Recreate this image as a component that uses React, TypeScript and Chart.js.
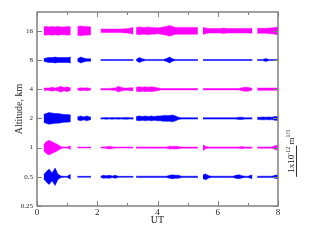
import React, { useEffect, useRef } from "react";
import { Chart, registerables } from "chart.js";

Chart.register(...registerables);

// Altitude levels (km) of the six traces
const levels = [16, 8, 4, 2, 1, 0.5];
const yTickValues = [0.25, 0.5, 1, 2, 4, 8, 16];
const xTickValues = [0, 2, 4, 6, 8];

// Time samples (UT hours) for each recording segment
const seg1T = [0.22, 0.3, 0.4, 0.5, 0.6, 0.7, 0.8, 0.9, 1.0, 1.12];
const seg2T = [1.34, 1.45, 1.55, 1.65, 1.79];
const seg3T = [2.11, 2.2, 2.3, 2.4, 2.5, 2.6, 2.7, 2.8, 2.9, 3.0, 3.1, 3.2];
const seg4T = [3.29, 3.4, 3.5, 3.6, 3.7, 3.8, 3.9, 4.0, 4.1, 4.2, 4.3, 4.4, 4.5, 4.6, 4.7, 4.8, 4.9, 5.0, 5.1, 5.2, 5.34];
const seg5T = [5.51, 5.6, 5.7, 5.8, 5.9, 6.0, 6.1, 6.2, 6.3, 6.4, 6.5, 6.6, 6.7, 6.8, 6.9, 7.0, 7.15];
const seg6T = [7.31, 7.4, 7.5, 7.6, 7.7, 7.8, 7.9, 8.0];

// Fluctuation amplitude (in 1/30 of the 1x10^-12 m^-2/3 scale bar)
const amp16 = [
  4, 4.5, 4, 4.5, 4, 4.5, 4, 4, 4.5, 4,
  4.5, 5, 4.5, 4.5, 4,
  1.8, 1.8, 1.8, 1.8, 1.8, 1.8, 1.8, 1.8, 2.2, 2.2, 2.8, 3.5,
  3.5, 4, 3.5, 3.5, 4, 3.5, 3.5, 3, 3.5, 4, 4.5, 5.5, 4.5, 3.5, 3.5, 3.5, 3.5, 3.5, 3.5, 3.5, 3.5,
  3.5, 3, 2.3, 2.3, 2.3, 2.3, 2.3, 2.8, 2.3, 2.3, 2.3, 2.3, 2.3, 2.3, 2.3, 2.3, 2.5,
  2.5, 2.5, 2.5, 2.5, 3, 3, 3.5, 4,
];
const amp8 = [
  1.2, 2, 2.5, 2.5, 3, 2.5, 2.5, 2.5, 2.5, 3,
  1.2, 3, 2, 1.2, 1.2,
  0.5, 0.5, 0.5, 0.5, 0.5, 0.5, 0.5, 0.5, 0.5, 0.5, 0.5, 0.5,
  0.6, 2.5, 1.2, 0.6, 0.6, 0.6, 0.6, 0.6, 0.6, 0.6, 1.5, 3, 1.2, 0.5, 0.5, 0.5, 0.5, 0.5, 0.5, 0.5, 0.5,
  0.5, 0.5, 0.5, 0.5, 0.5, 0.5, 0.5, 0.5, 0.5, 0.5, 0.5, 0.5, 0.5, 0.5, 0.5, 0.5, 0.5,
  0.5, 0.5, 0.6, 1.5, 0.6, 0.5, 0.5, 0.5,
];
const amp4 = [
  1.2, 1.2, 1.2, 2, 1.2, 2, 3, 1.5, 2.5, 1.2,
  0.7, 1.5, 1.2, 1.5, 0.7,
  0.8, 0.8, 0.8, 0.8, 1.2, 1.2, 3, 1.8, 1.2, 1.2, 1.5, 1.5,
  2, 2.5, 2, 2.5, 2, 2.5, 2, 1.5, 0.8, 0.7, 0.7, 0.7, 0.7, 0.7, 0.7, 0.7, 0.7, 0.7, 0.7, 0.7, 0.7,
  0.7, 0.7, 0.7, 0.7, 0.7, 0.7, 0.7, 0.7, 0.7, 0.7, 0.7, 0.7, 0.8, 1.5, 2, 2, 0.8,
  1.2, 1.2, 1.2, 1.2, 1.2, 1.2, 1.2, 1.2,
];
const amp2 = [
  4, 5, 6, 5.5, 5, 5, 4.5, 4, 4, 3.5,
  1.5, 2.5, 1.5, 2.5, 1.2,
  0.6, 0.6, 0.8, 0.6, 0.8, 0.6, 0.8, 0.6, 0.8, 0.8, 0.6, 0.8,
  2, 2.5, 2, 2.5, 2, 2.5, 2, 2.5, 2.5, 3, 3, 3, 3.5, 2.5, 1.2, 0.7, 0.7, 0.7, 0.7, 0.7, 0.7,
  0.7, 0.7, 0.7, 0.7, 0.7, 0.7, 0.7, 0.7, 0.7, 0.7, 0.7, 0.7, 1.2, 1.2, 0.7, 0.7, 0.7,
  1.2, 1.2, 1.5, 1.2, 1.5, 1.2, 2, 2,
];
const amp1 = [
  3, 6, 7.5, 6, 4.5, 3, 0.8, 0.5, 0.5, 2,
  0.5, 0.5, 0.5, 0.5, 0.5,
  0.5, 0.5, 0.8, 1.5, 0.8, 0.5, 0.5, 0.5, 0.5, 0.5, 0.5, 0.5,
  0.6, 0.6, 0.6, 0.6, 0.6, 0.6, 0.6, 0.6, 0.6, 0.6, 0.6, 1.5, 1.2, 1.5, 1.2, 0.6, 0.6, 0.6, 0.6, 0.6, 0.6,
  3, 1.2, 0.6, 0.6, 0.6, 0.6, 0.6, 0.6, 0.6, 0.6, 0.6, 0.6, 0.6, 1.2, 0.6, 0.6, 0.6,
  0.6, 0.6, 0.6, 0.6, 0.6, 0.6, 2, 2.5,
];
const amp05 = [
  2, 5, 8, 4, 9, 2.5, 0.8, 0.5, 0.5, 2.5,
  0.5, 0.5, 0.5, 0.5, 0.5,
  0.5, 1.5, 1.2, 1.5, 0.8, 1.5, 0.5, 0.5, 0.5, 0.5, 0.5, 0.5,
  0.6, 0.6, 0.6, 0.6, 0.6, 0.6, 0.6, 0.6, 0.6, 0.6, 0.6, 1.5, 2, 1.5, 1.5, 0.6, 0.6, 0.6, 0.6, 0.6, 0.6,
  2, 3, 1.2, 0.6, 0.6, 0.6, 0.6, 0.6, 0.6, 0.6, 0.6, 1.5, 2, 1.2, 0.6, 0.6, 2,
  0.6, 0.6, 0.6, 0.6, 0.6, 0.6, 1.5, 2,
];

const segments = [seg1T, seg2T, seg3T, seg4T, seg5T, seg6T];
const amplitudes = [amp16, amp8, amp4, amp2, amp1, amp05];
const traceColors = ["#ff00ff", "#0000ff", "#ff00ff", "#0000ff", "#ff00ff", "#0000ff"];
const AMP_UNIT = 1 / 30; // one scale bar = one octave on the log axis

function buildBand(level: number, amp: number[], sign: number) {
  const pts: { x: number; y: number | null }[] = [];
  let k = 0;
  segments.forEach((seg, si) => {
    if (si > 0) {
      const prev = segments[si - 1];
      pts.push({ x: (prev[prev.length - 1] + seg[0]) / 2, y: null });
    }
    seg.forEach((t) => {
      pts.push({ x: t, y: level * Math.pow(2, sign * amp[k] * AMP_UNIT) });
      k++;
    });
  });
  return pts;
}

const SERIF = "'Liberation Serif', 'DejaVu Serif', serif";

const decorPlugin = {
  id: "decor",
  afterDraw(chart: any) {
    const ctx = chart.ctx as CanvasRenderingContext2D;
    const { left, right, top, bottom } = chart.chartArea;
    const xs = chart.scales.x;
    const ys = chart.scales.y;
    ctx.save();
    ctx.strokeStyle = "#808080";
    ctx.lineWidth = 1.5;
    ctx.strokeRect(left, top, right - left, bottom - top);
    ctx.lineWidth = 1;
    ctx.beginPath();
    for (let t = 0; t <= 8; t++) {
      const len = t % 2 === 0 ? 5 : 3;
      const px = Math.round(xs.getPixelForValue(t)) + 0.5;
      ctx.moveTo(px, bottom);
      ctx.lineTo(px, bottom - len);
      ctx.moveTo(px, top);
      ctx.lineTo(px, top + len);
    }
    yTickValues.forEach((v) => {
      const py = Math.round(ys.getPixelForValue(v)) + 0.5;
      ctx.moveTo(left, py);
      ctx.lineTo(left + 5, py);
      ctx.moveTo(right, py);
      ctx.lineTo(right - 5, py);
    });
    ctx.stroke();

    // axis titles
    ctx.fillStyle = "#222";
    ctx.font = `10px ${SERIF}`;
    ctx.textAlign = "center";
    ctx.textBaseline = "middle";
    ctx.fillText("UT", (left + right) / 2, 220);
    ctx.save();
    ctx.translate(19, (top + bottom) / 2);
    ctx.rotate(-Math.PI / 2);
    ctx.fillText("Altitude, km", 0, 0);
    ctx.restore();

    // scale bar + its label
    const y1 = ys.getPixelForValue(1);
    const y05 = ys.getPixelForValue(0.5);
    ctx.strokeStyle = "#333";
    ctx.lineWidth = 1;
    ctx.beginPath();
    ctx.moveTo(right + 18.5, y1 - 2);
    ctx.lineTo(right + 18.5, y05);
    ctx.stroke();

    ctx.save();
    ctx.translate(right + 16, y05 - 4);
    ctx.rotate(-Math.PI / 2);
    ctx.textAlign = "left";
    ctx.textBaseline = "alphabetic";
    let x = 0;
    const part = (s: string, size: number, dy: number) => {
      ctx.font = `${size}px ${SERIF}`;
      ctx.fillText(s, x, dy);
      x += ctx.measureText(s).width;
    };
    part("1x10", 9, 0);
    part("-12", 6, -4);
    part(" m", 9, 0);
    part("1/3", 6, -4);
    ctx.restore();
    ctx.restore();
  },
};

export default function App() {
  const ref = useRef<HTMLCanvasElement>(null);
  useEffect(() => {
    if (!ref.current) return;
    const datasets: any[] = [];
    levels.forEach((lv, i) => {
      const c = traceColors[i];
      datasets.push({
        data: buildBand(lv, amplitudes[i], 1),
        borderColor: c,
        backgroundColor: c,
        borderWidth: 0.5,
        pointRadius: 0,
        tension: 0,
        spanGaps: false,
        fill: "+1",
      });
      datasets.push({
        data: buildBand(lv, amplitudes[i], -1),
        borderColor: c,
        backgroundColor: c,
        borderWidth: 0.5,
        pointRadius: 0,
        tension: 0,
        spanGaps: false,
        fill: false,
      });
    });
    const chart = new Chart(ref.current, {
      type: "line",
      data: { datasets },
      options: {
        animation: false,
        responsive: false,
        devicePixelRatio: 1,
        layout: { padding: { top: 12, right: 36, left: 0, bottom: 0 } },
        plugins: { legend: { display: false }, tooltip: { enabled: false } },
        scales: {
          x: {
            type: "linear",
            min: 0,
            max: 8,
            grid: { display: false, drawTicks: false },
            border: { display: false },
            afterBuildTicks: (s: any) => {
              s.ticks = xTickValues.map((v) => ({ value: v }));
            },
            afterFit: (s: any) => {
              s.height = 37;
            },
            ticks: {
              padding: 1,
              color: "#222",
              maxRotation: 0,
              font: { family: SERIF, size: 9 },
            },
          },
          y: {
            type: "logarithmic",
            min: 0.25,
            max: 25,
            grid: { display: false, drawTicks: false },
            border: { display: false },
            afterBuildTicks: (s: any) => {
              s.ticks = yTickValues.map((v) => ({ value: v }));
            },
            afterFit: (s: any) => {
              s.width = 37;
            },
            ticks: {
              padding: 4,
              color: "#222",
              font: { family: SERIF, size: 7 },
              callback: (v: any) => String(v),
            },
          },
        },
      },
      plugins: [decorPlugin],
    });
    return () => chart.destroy();
  }, []);
  return (
    <div style={{ position: "absolute", left: 0, top: 0, width: 314, height: 243, background: "#fff" }}>
      <canvas ref={ref} width={314} height={243} style={{ display: "block", width: 314, height: 243 }} />
    </div>
  );
}
